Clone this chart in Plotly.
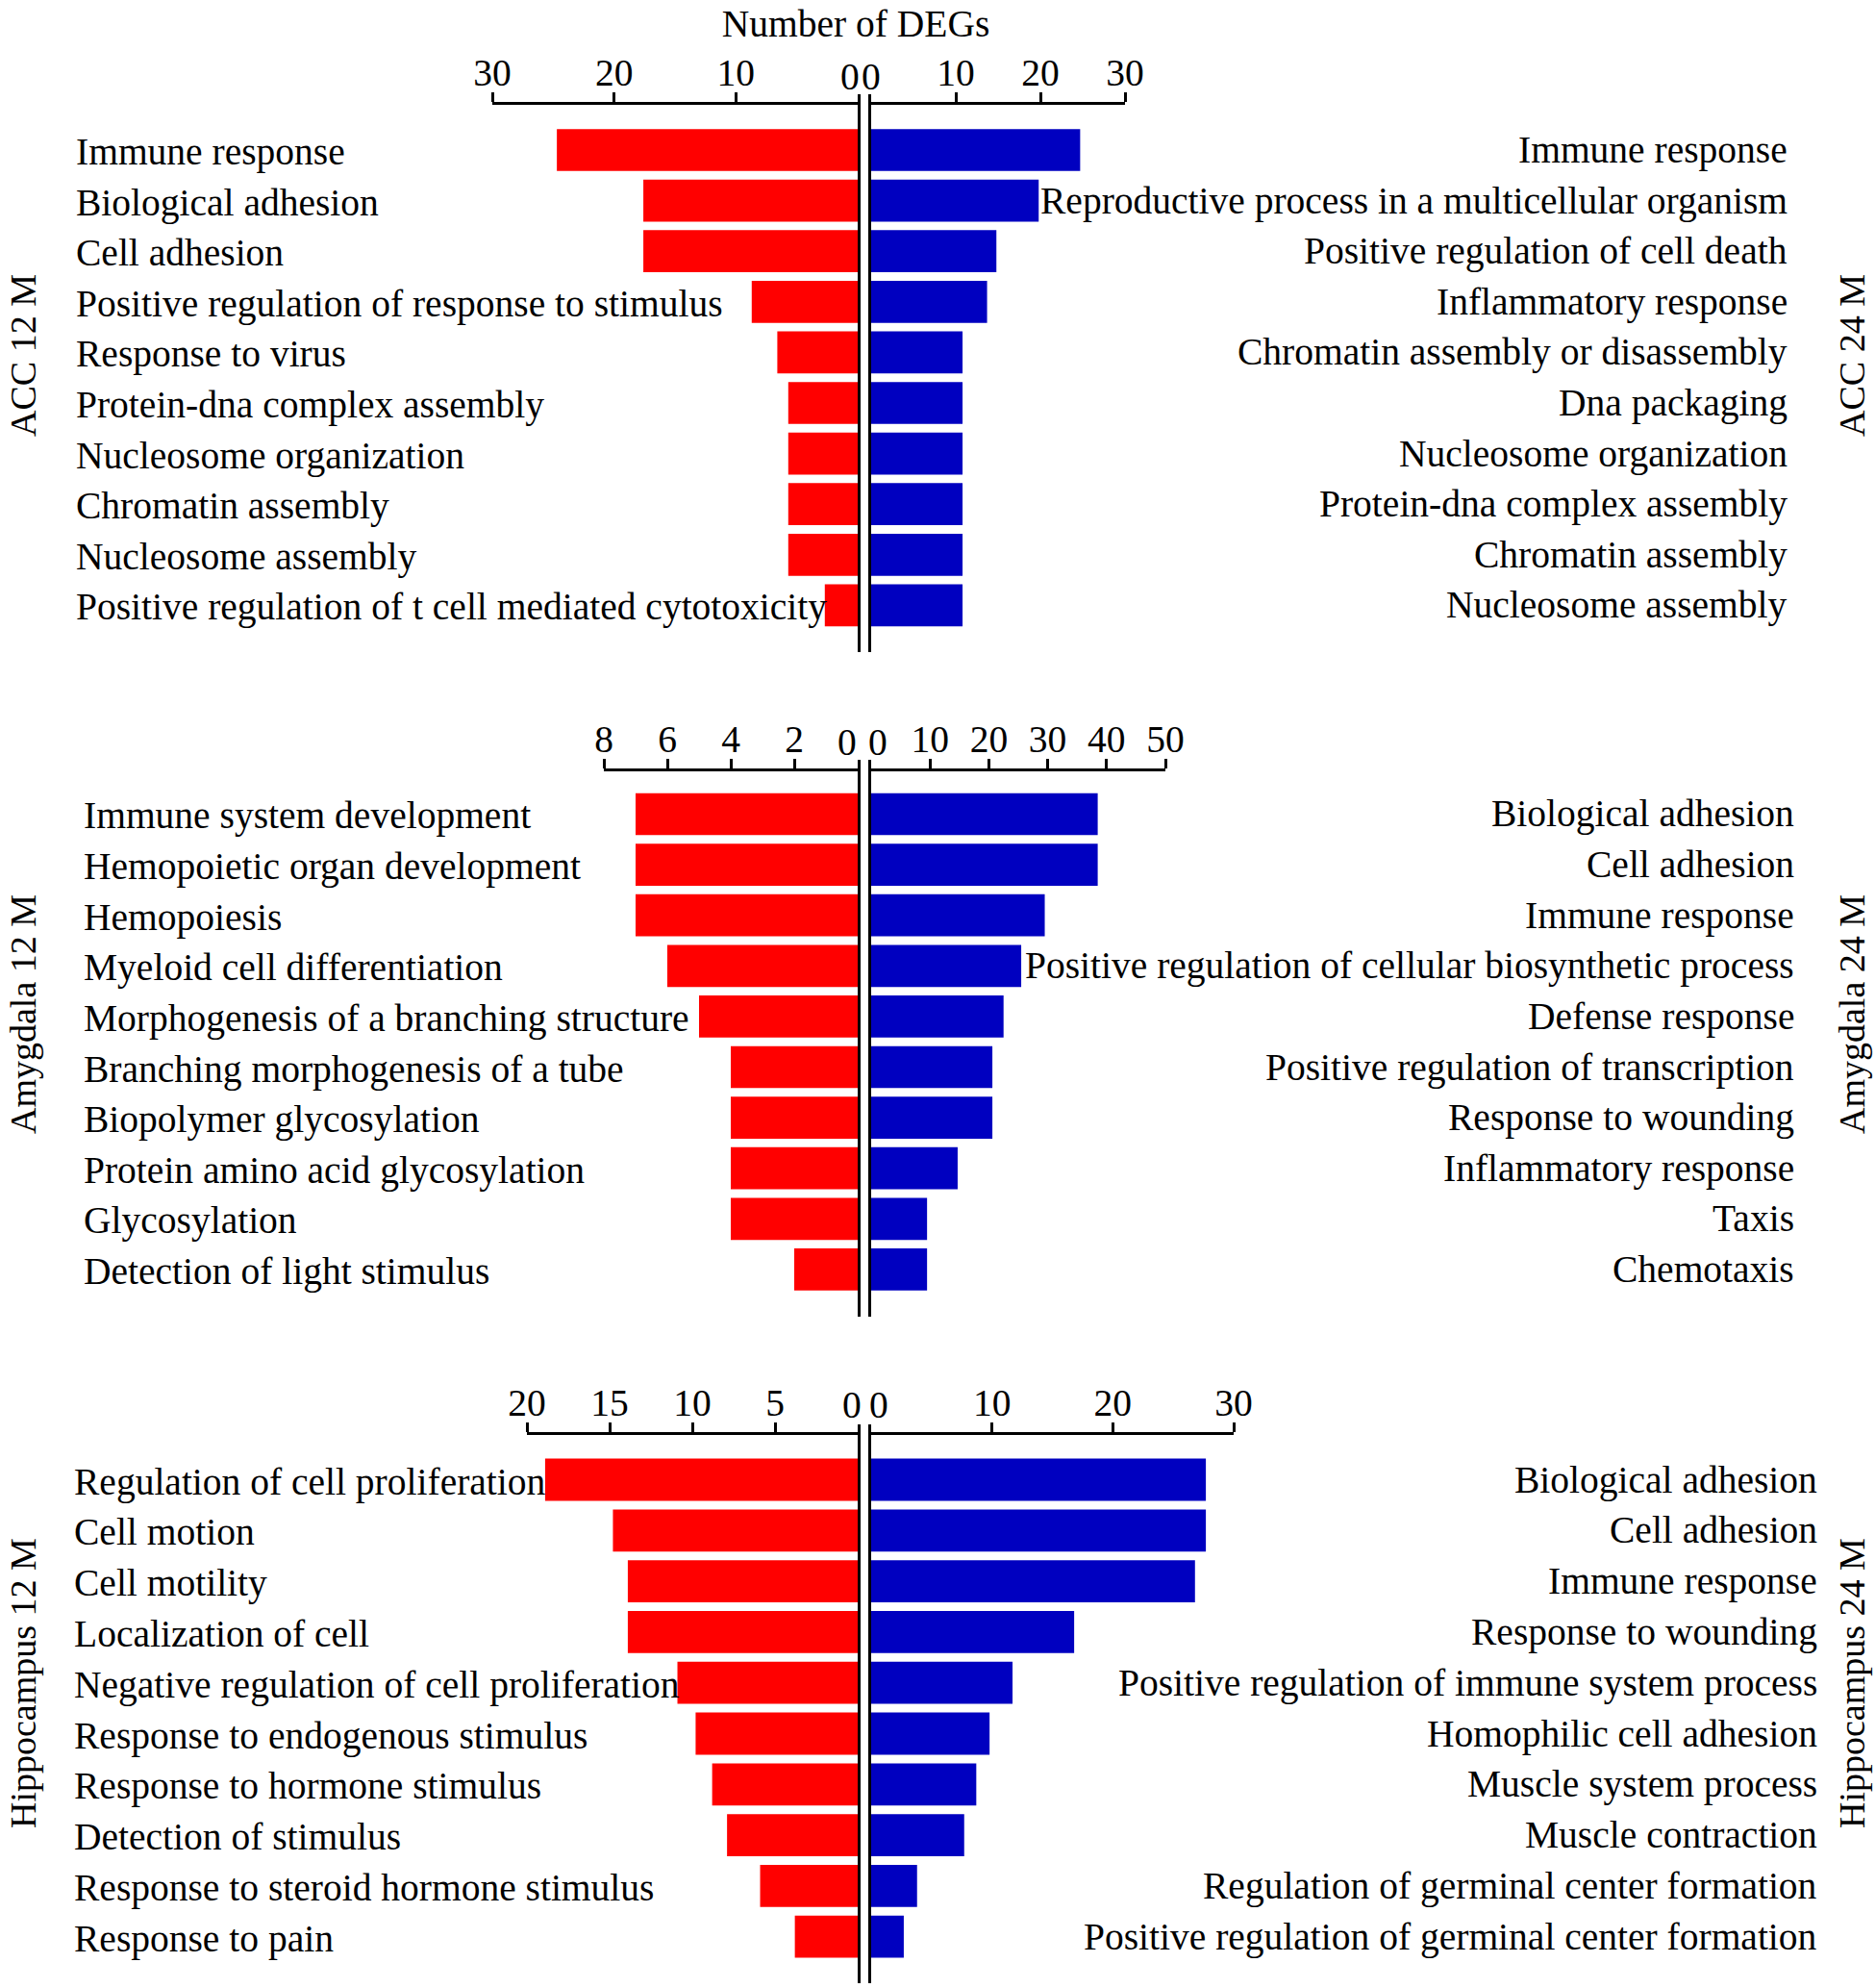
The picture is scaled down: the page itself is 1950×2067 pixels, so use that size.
import plotly.graph_objects as go

# Top GO terms by number of DEGs, young (12 M, left) vs old (24 M, right)

acc12_terms = ["Immune response", "Biological adhesion", "Cell adhesion",
               "Positive regulation of response to stimulus", "Response to virus",
               "Protein-dna complex assembly", "Nucleosome organization",
               "Chromatin assembly", "Nucleosome assembly",
               "Positive regulation of t cell mediated cytotoxicity"]
acc12_counts = [24.7, 17.6, 17.6, 8.7, 6.6, 5.7, 5.7, 5.7, 5.7, 2.7]

acc24_terms = ["Immune response", "Reproductive process in a multicellular organism",
               "Positive regulation of cell death", "Inflammatory response",
               "Chromatin assembly or disassembly", "Dna packaging",
               "Nucleosome organization", "Protein-dna complex assembly",
               "Chromatin assembly", "Nucleosome assembly"]
acc24_counts = [24.7, 19.8, 14.8, 13.7, 10.8, 10.8, 10.8, 10.8, 10.8, 10.8]

amy12_terms = ["Immune system development", "Hemopoietic organ development", "Hemopoiesis",
               "Myeloid cell differentiation", "Morphogenesis of a branching structure",
               "Branching morphogenesis of a tube", "Biopolymer glycosylation",
               "Protein amino acid glycosylation", "Glycosylation",
               "Detection of light stimulus"]
amy12_counts = [7, 7, 7, 6, 5, 4, 4, 4, 4, 2]

amy24_terms = ["Biological adhesion", "Cell adhesion", "Immune response",
               "Positive regulation of cellular biosynthetic process", "Defense response",
               "Positive regulation of transcription", "Response to wounding",
               "Inflammatory response", "Taxis", "Chemotaxis"]
amy24_counts = [38.5, 38.5, 29.5, 25.5, 22.5, 20.6, 20.6, 14.7, 9.5, 9.5]

hip12_terms = ["Regulation of cell proliferation", "Cell motion", "Cell motility",
               "Localization of cell", "Negative regulation of cell proliferation",
               "Response to endogenous stimulus", "Response to hormone stimulus",
               "Detection of stimulus", "Response to steroid hormone stimulus",
               "Response to pain"]
hip12_counts = [18.9, 14.8, 13.9, 13.9, 10.9, 9.8, 8.8, 7.9, 5.9, 3.8]

hip24_terms = ["Biological adhesion", "Cell adhesion", "Immune response",
               "Response to wounding", "Positive regulation of immune system process",
               "Homophilic cell adhesion", "Muscle system process", "Muscle contraction",
               "Regulation of germinal center formation",
               "Positive regulation of germinal center formation"]
hip24_counts = [27.7, 27.7, 26.8, 16.8, 11.7, 9.8, 8.7, 7.7, 3.8, 2.7]

acc_left_ticks = [10, 20, 30]
acc_right_ticks = [10, 20, 30]
amy_left_ticks = [2, 4, 6, 8]
amy_right_ticks = [10, 20, 30, 40, 50]
hip_left_ticks = [5, 10, 15, 20]
hip_right_ticks = [10, 20, 30]

W, H = 1950, 2067
FONT = "Liberation Serif"
FS = 39.5
RED = "#FF0000"
BLUE = "#0000C0"


def px(x):
    return x / W


def py(y):
    return 1 - y / H


# layout of each panel in pixels
panels = [
    dict(lt=acc12_terms, lc=acc12_counts, rt=acc24_terms, rc=acc24_counts,
         lticks=acc_left_ticks, rticks=acc_right_ticks, lmax=30, rmax=30,
         lname="ACC 12 M", rname="ACC 24 M",
         lx=(512, 892), rx=(906, 1170), axis_y=107, top=98, bottom=678,
         bar0=156, step=52.6, tick_y=80, llab=77, rlab=1861, mid=370,
         zshift=(-8, 0)),
    dict(lt=amy12_terms, lc=amy12_counts, rt=amy24_terms, rc=amy24_counts,
         lticks=amy_left_ticks, rticks=amy_right_ticks, lmax=8, rmax=50,
         lname="Amygdala 12 M", rname="Amygdala 24 M",
         lx=(628, 892), rx=(906, 1212), axis_y=800, top=790, bottom=1369,
         bar0=846.5, step=52.6, tick_y=772, llab=85, rlab=1868, mid=1055,
         zshift=(-11, 7)),
    dict(lt=hip12_terms, lc=hip12_counts, rt=hip24_terms, rc=hip24_counts,
         lticks=hip_left_ticks, rticks=hip_right_ticks, lmax=20, rmax=30,
         lname="Hippocampus 12 M", rname="Hippocampus 24 M",
         lx=(548, 892), rx=(906, 1283), axis_y=1490, top=1481, bottom=2062,
         bar0=1538.5, step=52.8, tick_y=1461, llab=75, rlab=1892, mid=1750,
         zshift=(-6, 8)),
]

fig = go.Figure()
annotations = []
layout = {}

for k, p in enumerate(panels):
    yrange = [(p['bottom'] - p['bar0']) / p['step'], (p['top'] - p['bar0']) / p['step']]
    for side in ('l', 'r'):
        n = 2 * k + (1 if side == 'l' else 2)
        xa = 'x' if n == 1 else f'x{n}'
        ya = 'y' if n == 1 else f'y{n}'
        terms = p[side + 't']
        counts = p[side + 'c']
        fig.add_trace(go.Bar(y=terms, x=counts, orientation='h',
                             marker_color=RED if side == 'l' else BLUE,
                             marker_line_width=0, width=0.83,
                             xaxis=xa, yaxis=ya, showlegend=False))
        x0, x1 = p[side + 'x']
        vmax = p[side + 'max']
        layout['xaxis' if n == 1 else f'xaxis{n}'] = dict(
            domain=[px(x0), px(x1)],
            range=[vmax, 0] if side == 'l' else [0, vmax],
            anchor='free', position=py(p['axis_y']), side='top',
            showline=True, linewidth=3, linecolor='black',
            ticks='outside', ticklen=10, tickwidth=3, tickcolor='black',
            tickvals=p[side + 'ticks'], ticklabelstandoff=-9,
            tickfont=dict(family=FONT, size=FS, color='black'),
            showgrid=False, zeroline=False, fixedrange=True, automargin=False)
        layout['yaxis' if n == 1 else f'yaxis{n}'] = dict(
            domain=[py(p['bottom']), py(p['top'])],
            type='category', categoryorder='array', categoryarray=terms,
            range=yrange, anchor=xa, side='right' if side == 'l' else 'left',
            showline=True, linewidth=3, linecolor='black', automargin=False,
            showticklabels=False, ticks='', showgrid=False, zeroline=False)
        # zero tick labels, pushed apart from each other
        annotations.append(dict(
            x=0, xref=xa, y=py(p['tick_y']), yref='paper', text='0',
            showarrow=False, xanchor='center', yanchor='middle',
            xshift=p['zshift'][0 if side == 'l' else 1],
            font=dict(family=FONT, size=FS, color='black')))
        # term labels
        for t in terms:
            annotations.append(dict(
                x=px(p['llab']) if side == 'l' else px(p['rlab']), xref='paper',
                y=t, yref=ya, text=t, showarrow=False,
                xanchor='left' if side == 'l' else 'right', yanchor='middle',
                yshift=-2 if side == 'l' else 0,
                font=dict(family=FONT, size=FS, color='black')))
    # group names
    annotations.append(dict(x=px(24), xref='paper', y=py(p['mid']), yref='paper',
                            text=p['lname'], textangle=-90, showarrow=False,
                            xanchor='center', yanchor='middle', borderpad=0,
                            font=dict(family=FONT, size=38, color='black')))
    annotations.append(dict(x=px(1926), xref='paper', y=py(p['mid']), yref='paper',
                            text=p['rname'], textangle=-90, showarrow=False,
                            xanchor='center', yanchor='middle', borderpad=0,
                            font=dict(family=FONT, size=38, color='black')))

fig.update_layout(
    width=W, height=H,
    margin=dict(l=0, r=0, t=0, b=0, pad=0, autoexpand=False),
    paper_bgcolor='white', plot_bgcolor='rgba(0,0,0,0)',
    title=dict(text='Number of DEGs', x=px(890), xanchor='center',
               y=py(24), yanchor='middle',
               font=dict(family=FONT, size=FS, color='black')),
    bargap=0.17,
    showlegend=False,
    annotations=annotations,
    **layout
)

fig.write_html("out.html", config={'displayModeBar': False},
               post_script="document.body.style.margin='0';"
                           "document.body.style.overflow='hidden';")
